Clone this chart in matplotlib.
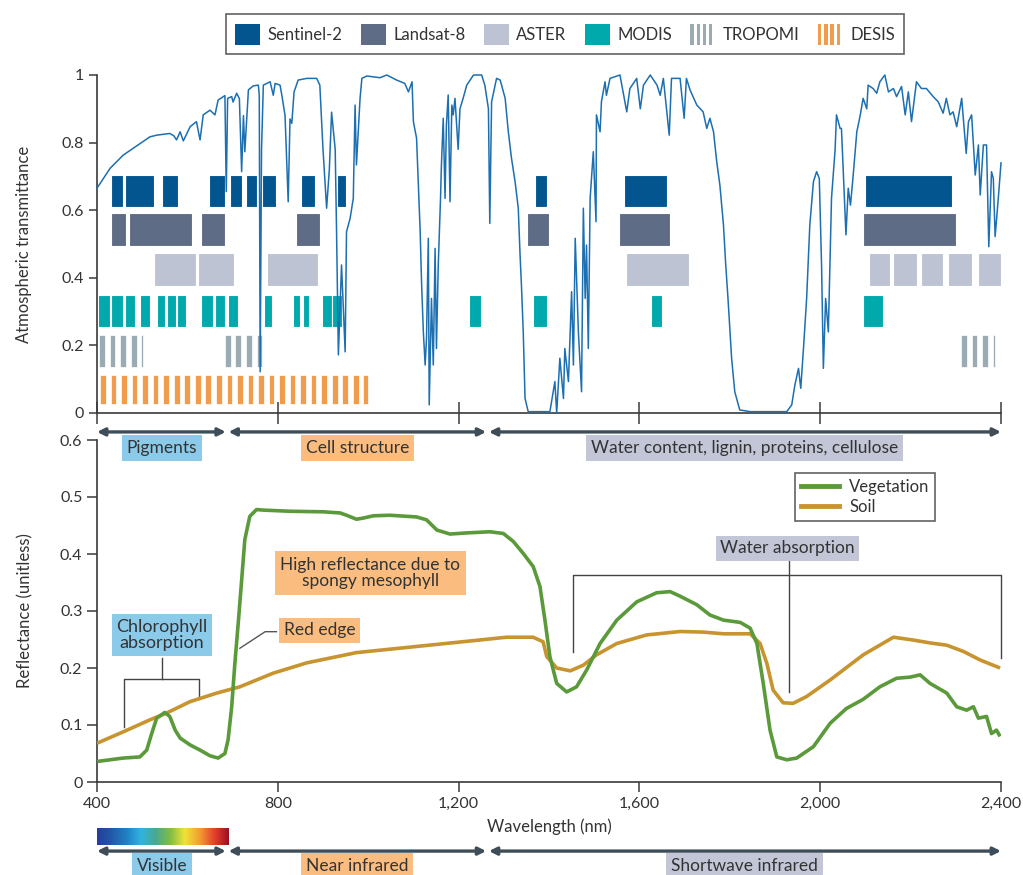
import numpy as np
import matplotlib
matplotlib.use("Agg")
import matplotlib.pyplot as plt
import matplotlib.transforms as mtransforms
from matplotlib.patches import Rectangle, Patch
from matplotlib.lines import Line2D
from matplotlib.legend_handler import HandlerBase
from matplotlib.colors import LinearSegmentedColormap
from matplotlib.ticker import FuncFormatter

plt.rcParams["font.family"] = ["Lato", "DejaVu Sans"]

# ---------------------------------------------------------------- data
# Atmospheric transmittance spectrum (wavelength nm, transmittance)
trans_wl = [400, 429, 458, 480, 502, 517, 532, 561, 570, 576, 584, 591, 606, 620, 628, 635,
            650, 661, 668, 683, 686, 689, 698, 701, 709, 715, 720, 724, 727, 735, 746, 757,
            759, 761, 764, 768, 783, 790, 794, 805, 809, 816, 823, 827, 831, 836, 845, 864,
            886, 893, 900, 908, 914, 919, 927, 930, 934, 941, 949, 952, 960, 967, 971, 974,
            982, 986, 997, 1026, 1041, 1063, 1081, 1089, 1097, 1100, 1107, 1111, 1115, 1118,
            1122, 1126, 1129, 1133, 1135, 1140, 1144, 1148, 1151, 1155, 1160, 1162, 1166, 1170,
            1173, 1177, 1181, 1185, 1188, 1192, 1199, 1203, 1210, 1218, 1233, 1251, 1258, 1266,
            1269, 1273, 1284, 1292, 1303, 1310, 1317, 1325, 1332, 1336, 1339, 1343, 1347, 1354,
            1402, 1413, 1417, 1424, 1432, 1435, 1443, 1450, 1454, 1458, 1465, 1472, 1476, 1480,
            1483, 1487, 1491, 1498, 1504, 1505, 1513, 1516, 1524, 1527, 1535, 1557, 1572, 1579,
            1594, 1602, 1609, 1624, 1639, 1646, 1653, 1666, 1671, 1690, 1699, 1704, 1712, 1727,
            1741, 1749, 1756, 1764, 1771, 1778, 1786, 1791, 1796, 1804, 1811, 1822, 1845, 1926,
            1937, 1944, 1952, 1957, 1963, 1970, 1977, 1985, 1992, 1998, 2003, 2007, 2012, 2018,
            2025, 2033, 2036, 2044, 2047, 2057, 2062, 2067, 2073, 2081, 2088, 2095, 2103, 2106,
            2117, 2125, 2132, 2143, 2151, 2162, 2169, 2180, 2188, 2195, 2202, 2213, 2224, 2235,
            2250, 2261, 2272, 2279, 2287, 2294, 2302, 2313, 2323, 2328, 2335, 2343, 2350, 2354,
            2361, 2368, 2373, 2379, 2383, 2387, 2394, 2400]
trans_val = [0.665, 0.724, 0.763, 0.783, 0.803, 0.817, 0.822, 0.827, 0.820, 0.808, 0.832, 0.805,
             0.847, 0.862, 0.808, 0.882, 0.896, 0.882, 0.926, 0.939, 0.655, 0.931, 0.936, 0.920,
             0.946, 0.930, 0.714, 0.880, 0.773, 0.956, 0.968, 0.970, 0.940, 0.122, 0.780, 0.970,
             0.980, 0.940, 0.975, 0.970, 0.940, 0.880, 0.625, 0.870, 0.857, 0.950, 0.985, 0.990,
             0.990, 0.970, 0.780, 0.606, 0.720, 0.890, 0.780, 0.536, 0.172, 0.438, 0.181, 0.536,
             0.576, 0.635, 0.911, 0.734, 0.931, 0.990, 0.997, 0.992, 1.000, 0.985, 0.975, 0.950,
             0.980, 0.862, 0.813, 0.675, 0.536, 0.388, 0.240, 0.142, 0.221, 0.517, 0.024, 0.339,
             0.142, 0.487, 0.191, 0.438, 0.635, 0.734, 0.872, 0.635, 0.852, 0.941, 0.625, 0.911,
             0.882, 0.931, 0.780, 0.900, 0.931, 0.970, 1.000, 1.000, 0.970, 0.900, 0.561, 0.921,
             0.990, 0.985, 0.931, 0.832, 0.754, 0.684, 0.606, 0.467, 0.379, 0.240, 0.043, 0.004,
             0.004, 0.093, 0.000, 0.162, 0.043, 0.191, 0.093, 0.359, 0.142, 0.517, 0.240, 0.063,
             0.606, 0.339, 0.497, 0.191, 0.635, 0.773, 0.566, 0.882, 0.832, 0.921, 0.980, 0.940,
             0.990, 1.000, 0.891, 0.960, 0.990, 0.900, 0.970, 1.000, 0.970, 0.940, 0.990, 0.822,
             0.990, 0.990, 0.872, 0.990, 0.956, 0.911, 0.891, 0.842, 0.872, 0.832, 0.744, 0.675,
             0.556, 0.438, 0.339, 0.162, 0.063, 0.009, 0.004, 0.004, 0.024, 0.083, 0.132, 0.073,
             0.191, 0.339, 0.556, 0.684, 0.714, 0.694, 0.438, 0.132, 0.339, 0.240, 0.635, 0.780,
             0.882, 0.842, 0.842, 0.527, 0.665, 0.615, 0.704, 0.832, 0.877, 0.931, 0.900, 0.970,
             0.960, 0.946, 0.980, 1.000, 0.950, 0.960, 0.936, 0.966, 0.882, 0.950, 0.862, 0.980,
             0.960, 0.960, 0.936, 0.921, 0.887, 0.931, 0.882, 0.891, 0.847, 0.931, 0.768, 0.862,
             0.882, 0.704, 0.793, 0.645, 0.793, 0.793, 0.492, 0.714, 0.694, 0.522, 0.635, 0.740]

# Sensor spectral bands (start nm, end nm)
sentinel2_bands = [(431, 458), (463, 527), (544, 579), (648, 683), (694, 720), (730, 755),
                   (764, 795), (851, 882), (932, 951), (1369, 1395), (1566, 1662), (2100, 2291)]
landsat8_bands = [(431, 465), (471, 610), (629, 684), (840, 893), (1352, 1399), (1555, 1668),
                  (2095, 2300)]
aster_bands = [(525, 619), (624, 703), (775, 889), (1571, 1709), (2108, 2154), (2160, 2215),
               (2224, 2272), (2282, 2336), (2350, 2400)]
modis_bands = [(403, 429), (432, 458), (463, 485), (496, 517), (532, 550), (555, 574),
               (577, 598), (629, 656), (661, 684), (689, 712), (770, 788), (834, 850),
               (855, 870), (898, 920), (920, 941), (1223, 1249), (1364, 1395), (1625, 1649),
               (2095, 2138)]
tropomi_bands = [(405, 502), (683, 766), (2312, 2387)]
desis_bands = [(407, 1000)]

sensor_names = ["Sentinel-2", "Landsat-8", "ASTER", "MODIS", "TROPOMI", "DESIS"]

# Reflectance spectra
veg_wl = [400, 458, 495, 510, 521, 532, 550, 561, 573, 584, 606, 628, 650, 668, 683, 690, 698,
          705, 713, 720, 727, 738, 753, 768, 827, 901, 938, 952, 974, 989, 1011, 1048, 1107,
          1129, 1152, 1181, 1218, 1269, 1299, 1321, 1343, 1365, 1380, 1391, 1402, 1417, 1439,
          1461, 1483, 1513, 1550, 1594, 1638, 1668, 1690, 1727, 1756, 1786, 1823, 1845, 1860,
          1874, 1889, 1904, 1926, 1948, 1985, 2022, 2058, 2095, 2132, 2169, 2199, 2221, 2243,
          2280, 2302, 2324, 2339, 2350, 2368, 2379, 2390, 2398]
veg_refl = [0.036, 0.042, 0.044, 0.056, 0.085, 0.112, 0.122, 0.115, 0.091, 0.077, 0.065, 0.056,
            0.046, 0.042, 0.050, 0.074, 0.132, 0.208, 0.284, 0.354, 0.425, 0.466, 0.478, 0.477,
            0.475, 0.474, 0.472, 0.468, 0.461, 0.463, 0.467, 0.468, 0.465, 0.460, 0.442, 0.435,
            0.437, 0.439, 0.436, 0.422, 0.401, 0.378, 0.343, 0.284, 0.220, 0.173, 0.158, 0.167,
            0.196, 0.243, 0.284, 0.316, 0.332, 0.334, 0.326, 0.311, 0.293, 0.284, 0.280, 0.270,
            0.243, 0.173, 0.091, 0.044, 0.039, 0.042, 0.062, 0.103, 0.129, 0.145, 0.167, 0.182,
            0.184, 0.188, 0.173, 0.156, 0.132, 0.126, 0.132, 0.112, 0.115, 0.085, 0.091, 0.080]
soil_wl = [400, 458, 517, 554, 606, 665, 716, 790, 864, 974, 1122, 1233, 1306, 1365, 1387, 1395,
           1417, 1447, 1476, 1505, 1550, 1616, 1690, 1741, 1786, 1845, 1867, 1882, 1896, 1918,
           1940, 1970, 2022, 2095, 2162, 2206, 2243, 2280, 2317, 2354, 2398]
soil_refl = [0.068, 0.088, 0.109, 0.121, 0.141, 0.156, 0.167, 0.191, 0.209, 0.227, 0.239, 0.248,
             0.254, 0.254, 0.246, 0.220, 0.200, 0.195, 0.205, 0.223, 0.243, 0.258, 0.264, 0.263,
             0.260, 0.260, 0.243, 0.208, 0.161, 0.139, 0.138, 0.150, 0.179, 0.223, 0.254, 0.249,
             0.244, 0.240, 0.229, 0.214, 0.200]

# Spectral regions shown under each panel
process_edges = [400, 688, 1264, 2400]
process_labels = ["Pigments", "Cell structure", "Water content, lignin, proteins, cellulose"]
region_labels = ["Visible", "Near infrared", "Shortwave infrared"]
visible_range = (400, 692)

# ---------------------------------------------------------------- style
C_S2, C_L8, C_AST, C_MOD, C_TRO, C_DES = "#02558f", "#5f6c86", "#bec3d3", "#00a9ab", "#9aabb4", "#f09c4c"
C_TRANS = "#1c6fb0"
C_VEG, C_SOIL = "#5b9a3b", "#c8942f"
BOX_BLUE, BOX_ORANGE, BOX_GREY = "#8ccaea", "#fbbd7f", "#c2c6d7"
ARROW_C = "#3e4d57"
AX_C = "#3a3a3a"

W, H = 1023, 875
fig = plt.figure(figsize=(W / 100, H / 100), dpi=100)


def px_rect(left, top, right, bottom):
    return [left / W, 1 - bottom / H, (right - left) / W, (bottom - top) / H]


ax_t = fig.add_axes(px_rect(97, 75, 1001, 413))
ax_b = fig.add_axes(px_rect(97, 440, 1001, 782))
# upper panel sits above the lower one so its region labels are not covered
ax_t.set_zorder(3)
ax_t.patch.set_alpha(0)

for ax in (ax_t, ax_b):
    for s in ("top", "right"):
        ax.spines[s].set_visible(False)
    for s in ("left", "bottom"):
        ax.spines[s].set_color(AX_C)
        ax.spines[s].set_linewidth(1.2)
    ax.set_xlim(400, 2400)
    ax.set_xticks([400, 800, 1200, 1600, 2000, 2400])
    ax.tick_params(colors=AX_C, labelcolor="#333333", labelsize=11.5, width=1.1)
    ax.yaxis.set_major_formatter(FuncFormatter(lambda v, p: f"{v:g}"))

# ---------------------------------------------------------------- top panel
ax_t.set_ylim(0, 1)
ax_t.set_yticks([0, 0.2, 0.4, 0.6, 0.8, 1])
ax_t.tick_params(axis="x", direction="inout", length=16, labelbottom=False)
ax_t.tick_params(axis="y", direction="out", length=6)
ax_t.set_ylabel("Atmospheric transmittance", fontsize=12, color="#333333", labelpad=21)

rows = [  # (bands, colour, bottom, height, striped)
    (sentinel2_bands, C_S2, 0.610, 0.095, False),
    (landsat8_bands, C_L8, 0.494, 0.098, False),
    (aster_bands, C_AST, 0.376, 0.097, False),
    (modis_bands, C_MOD, 0.254, 0.095, False),
    (tropomi_bands, C_TRO, 0.136, 0.095, True),
    (desis_bands, C_DES, 0.028, 0.085, True),
]
STRIPE_W, STRIPE_STEP = 12.5, 23.3
for bands, colour, bottom, height, striped in rows:
    for a, b in bands:
        if striped:
            starts = np.arange(a, b, STRIPE_STEP)
            widths = np.minimum(STRIPE_W, b - starts)
            ax_t.bar(starts, height, width=widths, bottom=bottom, align="edge",
                     color=colour, edgecolor="white", linewidth=0.5, zorder=2)
        else:
            ax_t.bar(a, height, width=b - a, bottom=bottom, align="edge",
                     color=colour, edgecolor="white", linewidth=0.8, zorder=2)

ax_t.plot(trans_wl, trans_val, color=C_TRANS, lw=1.1, zorder=3, clip_on=False)


class StripeHandler(HandlerBase):
    def create_artists(self, legend, orig_handle, xdescent, ydescent, width, height, fontsize, trans):
        n = 4
        step = width / n
        return [Rectangle((-xdescent + i * step, -ydescent), step * 0.55, height,
                          facecolor=orig_handle.get_facecolor(), edgecolor="none", transform=trans)
                for i in range(n)]


class StripePatch(Patch):
    pass


handles = [Patch(facecolor=C_S2), Patch(facecolor=C_L8), Patch(facecolor=C_AST),
           Patch(facecolor=C_MOD), StripePatch(facecolor=C_TRO), StripePatch(facecolor=C_DES)]
leg = fig.legend(handles, sensor_names, loc="upper center", bbox_to_anchor=(565 / W, 1 - 6 / H),
                 ncol=6, fontsize=12, frameon=True, fancybox=False, edgecolor="#3a3a3a",
                 handlelength=1.5, handleheight=1.6, handletextpad=0.45, columnspacing=1.1,
                 borderpad=0.55, handler_map={StripePatch: StripeHandler()})
leg.get_frame().set_linewidth(1.2)
for t in leg.get_texts():
    t.set_color("#333333")


def region_arrows(ax, y_arrow, y_text, labels, colours):
    tr = mtransforms.blended_transform_factory(ax.transData, ax.transAxes)
    for i, lab in enumerate(labels):
        a, b = process_edges[i], process_edges[i + 1]
        a_in = a + (3 if i > 0 else 0)
        b_in = b - (3 if i < len(labels) - 1 else 0)
        ax.annotate("", xy=(a_in, y_arrow), xytext=(b_in, y_arrow), xycoords=tr, textcoords=tr,
                    annotation_clip=False,
                    arrowprops=dict(arrowstyle="<|-|>", color=ARROW_C, lw=2.4,
                                    mutation_scale=11, shrinkA=0, shrinkB=0))
        ax.text((a + b) / 2, y_text, lab, transform=tr, ha="center", va="center",
                fontsize=12.5, color="#333333", clip_on=False,
                bbox=dict(boxstyle="square,pad=0.28", facecolor=colours[i], edgecolor="none"))


region_arrows(ax_t, -0.056, -0.104, process_labels, [BOX_BLUE, BOX_ORANGE, BOX_GREY])

# ---------------------------------------------------------------- bottom panel
ax_b.set_ylim(0, 0.6)
ax_b.set_yticks([0, 0.1, 0.2, 0.3, 0.4, 0.5, 0.6])
ax_b.xaxis.set_major_formatter(FuncFormatter(lambda v, p: f"{v:,.0f}"))
ax_b.tick_params(axis="both", direction="out", length=7)
ax_b.set_ylabel("Reflectance (unitless)", fontsize=12, color="#333333", labelpad=19)
ax_b.set_xlabel("Wavelength (nm)", fontsize=12, color="#333333", labelpad=6)

ax_b.plot(soil_wl, soil_refl, color=C_SOIL, lw=2.6, zorder=3, solid_capstyle="butt")
ax_b.plot(veg_wl, veg_refl, color=C_VEG, lw=2.6, zorder=4, solid_capstyle="butt")

leg2 = ax_b.legend([Line2D([], [], color=C_VEG, lw=3.5), Line2D([], [], color=C_SOIL, lw=3.5)],
                   ["Vegetation", "Soil"], loc="upper left", bbox_to_anchor=(0.763, 0.928),
                   fontsize=12, frameon=True, fancybox=False, edgecolor="#3a3a3a",
                   handlelength=2.3, handletextpad=0.6, borderpad=0.35, labelspacing=0.25)
leg2.get_frame().set_linewidth(1.2)
for t in leg2.get_texts():
    t.set_color("#333333")

line_kw = dict(color="#444444", lw=1.0, zorder=2, clip_on=False)
# chlorophyll absorption bracket
ax_b.plot([544, 544], [0.2175, 0.180], **line_kw)
ax_b.plot([460, 460, 626, 626], [0.097, 0.180, 0.180, 0.147], **line_kw)
ax_b.text(544, 0.258, "Chlorophyll\nabsorption", ha="center", va="center", fontsize=13,
          color="#333333", linespacing=1.05,
          bbox=dict(boxstyle="square,pad=0.25", facecolor=BOX_BLUE, edgecolor="none"), zorder=5)
# red edge pointer
ax_b.plot([797, 772, 716], [0.2637, 0.2637, 0.2346], color="#555555", lw=1.0, zorder=2)
ax_b.text(892, 0.266, "Red edge", ha="center", va="center", fontsize=12.5, color="#333333",
          bbox=dict(boxstyle="square,pad=0.25", facecolor=BOX_ORANGE, edgecolor="none"), zorder=5)
# mesophyll note
ax_b.text(1005, 0.3667, "High reflectance due to\nspongy mesophyll", ha="center", va="center",
          fontsize=12.5, color="#333333", linespacing=1.05,
          bbox=dict(boxstyle="square,pad=0.3", facecolor=BOX_ORANGE, edgecolor="none"), zorder=5)
# water absorption bracket
ax_b.plot([1930, 1930], [0.39, 0.158], **line_kw)
ax_b.plot([1452, 1452, 2399, 2399], [0.2286, 0.363, 0.363, 0.217], **line_kw)
ax_b.text(1928, 0.41, "Water absorption", ha="center", va="center", fontsize=12.5,
          color="#333333",
          bbox=dict(boxstyle="square,pad=0.25", facecolor=BOX_GREY, edgecolor="none"), zorder=5)

# visible colour strip
spec_cmap = LinearSegmentedColormap.from_list(
    "visible", ["#233f97", "#2459a8", "#1f80c4", "#31b4e0", "#4aa891", "#82bd48",
                "#f0e336", "#f29f32", "#e5412e", "#9c0f22"])
cax = ax_b.inset_axes([visible_range[0], -0.184, visible_range[1] - visible_range[0], 0.05],
                      transform=ax_b.get_xaxis_transform())
cax.imshow(np.linspace(0, 1, 256)[None, :], cmap=spec_cmap, aspect="auto")
cax.set_axis_off()

region_arrows(ax_b, -0.202, -0.246, region_labels, [BOX_BLUE, BOX_ORANGE, BOX_GREY])

fig.savefig("out.png", dpi=100)
